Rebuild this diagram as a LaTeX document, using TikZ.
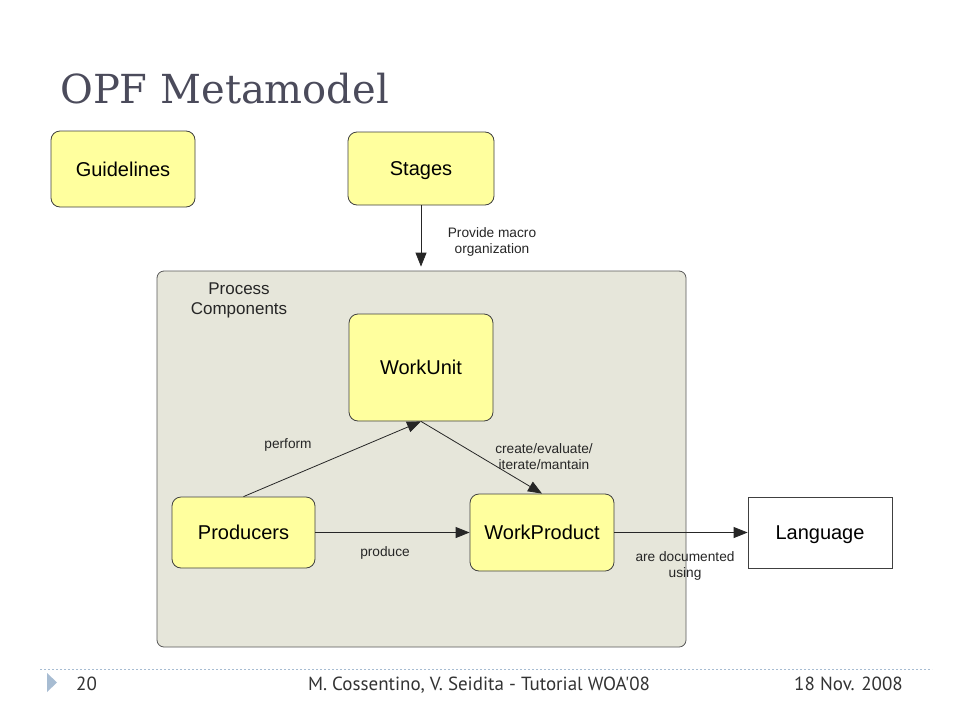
\documentclass[tikz,border=0pt]{standalone}
\usepackage{fontspec}
\setmainfont{Liberation Sans}
\newfontfamily\titlefont{DejaVu Serif}
\newfontfamily\footfont{PT Sans}
\usetikzlibrary{arrows.meta,positioning,calc}
\definecolor{boxyellow}{HTML}{FFFF9E}
\definecolor{procfill}{HTML}{E6E6DA}
\definecolor{titlecol}{HTML}{4B4B5B}
\definecolor{footblue}{HTML}{A7BCD2}
\tikzset{
  ybox/.style={draw=black!75, fill=boxyellow, rounded corners=9pt, line width=0.8pt, inner sep=0pt, text height=14.3pt, text depth=0pt, font=\fontsize{20}{24}\selectfont},
  wbox/.style={draw=black!75, fill=white, line width=0.8pt, inner sep=0pt, text height=14.3pt, text depth=0pt, font=\fontsize{20}{24}\selectfont},
  conn/.style={draw=black!85, line width=0.8pt, -{Triangle[length=14pt,width=11pt]}},
  lab/.style={font=\fontsize{13.7}{16}\selectfont, align=center, text=black!85, inner sep=0pt},
}
\begin{document}
\begin{tikzpicture}[x=1pt,y=-1pt]
\useasboundingbox[fill=white] (0,0) rectangle (960,720);
% title
\node[anchor=base west, inner sep=0pt, text=titlecol, font=\titlefont\fontsize{40}{44}\selectfont] (title) at (60,103) {OPF Metamodel};
% container
\node[draw=black!65, fill=procfill, rounded corners=7pt, line width=0.8pt, minimum width=529pt, minimum height=376pt, inner sep=0pt] (proc) at (421.5,459) {};
\node[lab, font=\fontsize{17}{20}\selectfont] (proclab) at (239,300) {Process\\Components};
% boxes
\node[ybox, minimum width=144pt, minimum height=76pt] (gl) at (123,169) {Guidelines};
\node[ybox, minimum width=146pt, minimum height=73pt] (st) at (421,168.5) {Stages};
\node[ybox, minimum width=144pt, minimum height=107pt] (wu) at (421,367.5) {WorkUnit};
\node[ybox, minimum width=143pt, minimum height=71pt] (pr) at (243.5,532.5) {Producers};
\node[ybox, minimum width=144pt, minimum height=77pt] (wp) at (542,532.5) {WorkProduct};
\node[wbox, minimum width=144pt, minimum height=71pt] (lg) at (820,532.5) {Language};
% connectors
\draw[conn, shorten >=4pt] (st.south) -- (st.south |- proc.north);
\node[lab] (l1) at (492,242) {Provide macro\\organization};
\draw[conn] (pr.north) -- (wu.south);
\node[lab] (l2) at (288,445) {perform};
\draw[conn] (wu.south) -- (wp.north);
\node[lab] (l3) at (544,457) {create/evaluate/\\iterate/mantain};
\draw[conn] (pr.east) -- (wp.west);
\node[lab] (l4) at (385,553) {produce};
\draw[conn] (wp.east) -- (lg.west);
\node[lab] (l5) at (685,566) {are documented\\using};
% footer
\coordinate (fl) at (40,669);
\coordinate (fr) at (932,669);
\draw[footblue, dash pattern=on 2pt off 2pt, line width=0.7pt] (fl) -- (fr);
\fill[footblue] (47,673) -- (57,682.5) -- (47,692) -- cycle;
\node[anchor=base west, inner sep=0pt, font=\footfont\fontsize{19}{22}\selectfont, text=black!80] (pg) at (76,690) {20};
\node[anchor=base, inner sep=0pt, font=\footfont\fontsize{19}{22}\selectfont, text=black!80] (auth) at (479,690) {M. Cossentino, V. Seidita - Tutorial WOA'08};
\node[anchor=base east, inner sep=0pt, font=\footfont\fontsize{19}{22}\selectfont, text=black!80] (date) at (903,690) {18 Nov. 2008};
\end{tikzpicture}
\end{document}
